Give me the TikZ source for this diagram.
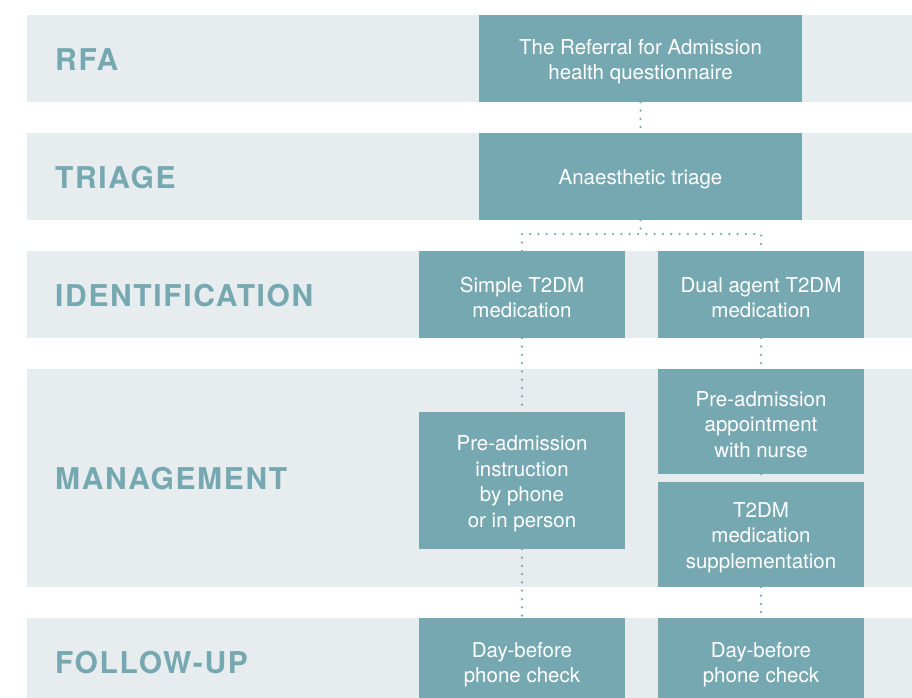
\documentclass[tikz,border=0pt]{standalone}
\usepackage{fontspec}
\setmainfont{TeX Gyre Heros}
\newfontfamily\bandfont[LetterSpace=5.5]{TeX Gyre Heros}
\definecolor{boxteal}{RGB}{118,168,177}
\definecolor{bandgrey}{RGB}{231,236,238}
\newcommand\boxstrut{\rule{0pt}{21pt}}
\begin{document}
\begin{tikzpicture}[x=1pt, y=-1pt,
  band/.style={fill=bandgrey},
  bandlabel/.style={anchor=west, inner sep=0pt, text=boxteal, font=\bandfont\bfseries\fontsize{30}{30}\selectfont},
  box/.style={fill=boxteal, text=white, inner sep=0pt, align=center, minimum width=206pt, minimum height=87pt, font=\fontsize{20.5}{25.5}\selectfont},
  link/.style={draw=boxteal, line width=2.5pt, line cap=round, dash pattern=on 0pt off 8.3pt}]
\fill[white] (0,0) rectangle (912,697);
\clip (0,0) rectangle (912,697);
\fill[band] (27,15) rectangle (912,102);
\fill[band] (27,133) rectangle (912,220);
\fill[band] (27,251) rectangle (912,338);
\fill[band] (27,369) rectangle (912,587);
\fill[band] (27,618) rectangle (912,705);
\node[bandlabel] (lrfa) at (55,59.5) {RFA};
\node[bandlabel] (ltri) at (55,177.5) {TRIAGE};
\node[bandlabel] (lid) at (55,295.5) {IDENTIFICATION};
\node[bandlabel] (lman) at (55,479) {MANAGEMENT};
\node[bandlabel] (lfol) at (55,662.5) {FOLLOW-UP};
\node[box, minimum width=323pt] (rfa) at (640.5,58.5) {\boxstrut The Referral for Admission\\health questionnaire};
\node[box, minimum width=323pt] (tri) at (640.5,176.5) {\boxstrut Anaesthetic triage};
\node[box] (simple) at (522,294.5) {\boxstrut Simple T2DM\\medication};
\node[box] (dual) at (761,294.5) {\boxstrut Dual agent T2DM\\medication};
\node[box, minimum height=137pt] (instr) at (522,480.5) {\boxstrut Pre-admission\\instruction\\by phone\\or in person};
\node[box, minimum height=105pt] (appt) at (761,421.5) {\boxstrut Pre-admission\\appointment\\with nurse};
\node[box, minimum height=105pt] (suppl) at (761,534.5) {\boxstrut T2DM\\medication\\supplementation};
\node[box] (dayL) at (522,661.5) {\boxstrut Day-before\\phone check};
\node[box] (dayR) at (761,661.5) {\boxstrut Day-before\\phone check};
\coordinate (fork) at (640.5,234);
\draw[link] (rfa) -- (tri);
\draw[link] (tri) -- (fork);
\draw[link] (simple.north) |- (fork) -| (dual.north);
\draw[link] (simple) -- (instr);
\draw[link] (dual) -- (appt);
\draw[link] (appt) -- (suppl);
\draw[link] (instr) -- (dayL);
\draw[link] (suppl) -- (dayR);
\end{tikzpicture}
\end{document}
